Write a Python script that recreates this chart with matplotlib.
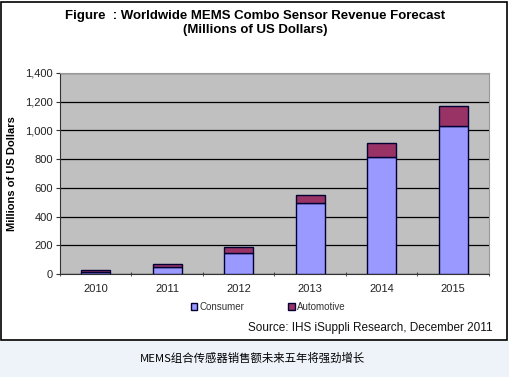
import numpy as np
import matplotlib.pyplot as plt
from matplotlib.patches import Rectangle

plt.rcParams['font.family'] = ['Liberation Sans', 'DejaVu Sans']

# data (millions of US dollars)
years = ['2010', '2011', '2012', '2013', '2014', '2015']
consumer = [12, 48, 148, 493, 818, 1034]
automotive = [13, 22, 42, 58, 97, 137]
y_ticks = [0, 200, 400, 600, 800, 1000, 1200, 1400]
title = 'Figure  : Worldwide MEMS Combo Sensor Revenue Forecast\n(Millions of US Dollars)'
source = 'Source: IHS iSuppli Research, December 2011'
caption = 'MEMS组合传感器销售额未来五年将强劲增长'

fig = plt.figure(figsize=(5.10, 3.77), dpi=100)
fig.patch.set_facecolor('white')

# caption band under the chart picture
fig.patches.append(Rectangle((0, 0), 1, 36 / 377, transform=fig.transFigure,
                             facecolor='#eef3fa', edgecolor='none', zorder=0))
# frame of the chart picture
fig.patches.append(Rectangle((1 / 510, 37 / 377), 506 / 510, 338 / 377,
                             transform=fig.transFigure, facecolor='none',
                             edgecolor='black', linewidth=1.2, zorder=5))

ax = fig.add_axes([60 / 510, 103 / 377, 429 / 510, 201 / 377])
ax.set_facecolor('#c0c0c0')
x = np.arange(len(years))
ax.bar(x, consumer, width=0.4, color='#9999ff', edgecolor='#000033',
       linewidth=1.0, label='Consumer', zorder=3)
ax.bar(x, automotive, width=0.4, bottom=consumer, color='#993366',
       edgecolor='#000033', linewidth=1.0, label='Automotive', zorder=3)

ax.set_xlim(-0.5, len(years) - 0.5)
ax.set_ylim(0, 1400)
ax.set_yticks(y_ticks)
ax.set_yticklabels(['{:,}'.format(v) for v in y_ticks], fontsize=8, color='#222222')
ax.set_xticks(x)
ax.set_xticklabels(years, fontsize=8, color='#222222')
ax.tick_params(axis='x', length=0, pad=7)
ax.set_xticks(np.arange(len(years) + 1) - 0.5, minor=True)
ax.tick_params(axis='x', which='minor', length=3, direction='inout', color='#333333')
ax.tick_params(axis='y', length=3, direction='out', color='#333333', pad=2)
ax.yaxis.grid(True, color='black', linewidth=0.9, zorder=1)
ax.set_axisbelow(True)
for side in ['top', 'right']:
    ax.spines[side].set_color('#999999')
ax.spines['left'].set_color('#333333')
ax.spines['bottom'].set_color('#333333')

ax.set_ylabel('Millions of US Dollars', fontsize=8, fontweight='bold', labelpad=6)

fig.text(0.5, 1 - 23 / 377, title, ha='center', va='center', fontsize=9.5,
         fontweight='bold', linespacing=1.2)

leg = fig.legend(loc='center', bbox_to_anchor=(268 / 510, 1 - 307 / 377), ncol=2,
                 frameon=False, fontsize=7, handlelength=0.7, handleheight=0.7,
                 handletextpad=0.2, columnspacing=4.5)
for t in leg.get_texts():
    t.set_color('#333333')

fig.text(493 / 510, 1 - 328 / 377, source, ha='right', va='center', fontsize=8.5,
         color='#111111')

fig.text(253 / 510, 1 - 358 / 377, caption, ha='center', va='center', fontsize=8.2,
         family=['Noto Sans CJK SC', 'DejaVu Sans'])

fig.savefig('out.png', dpi=100)
